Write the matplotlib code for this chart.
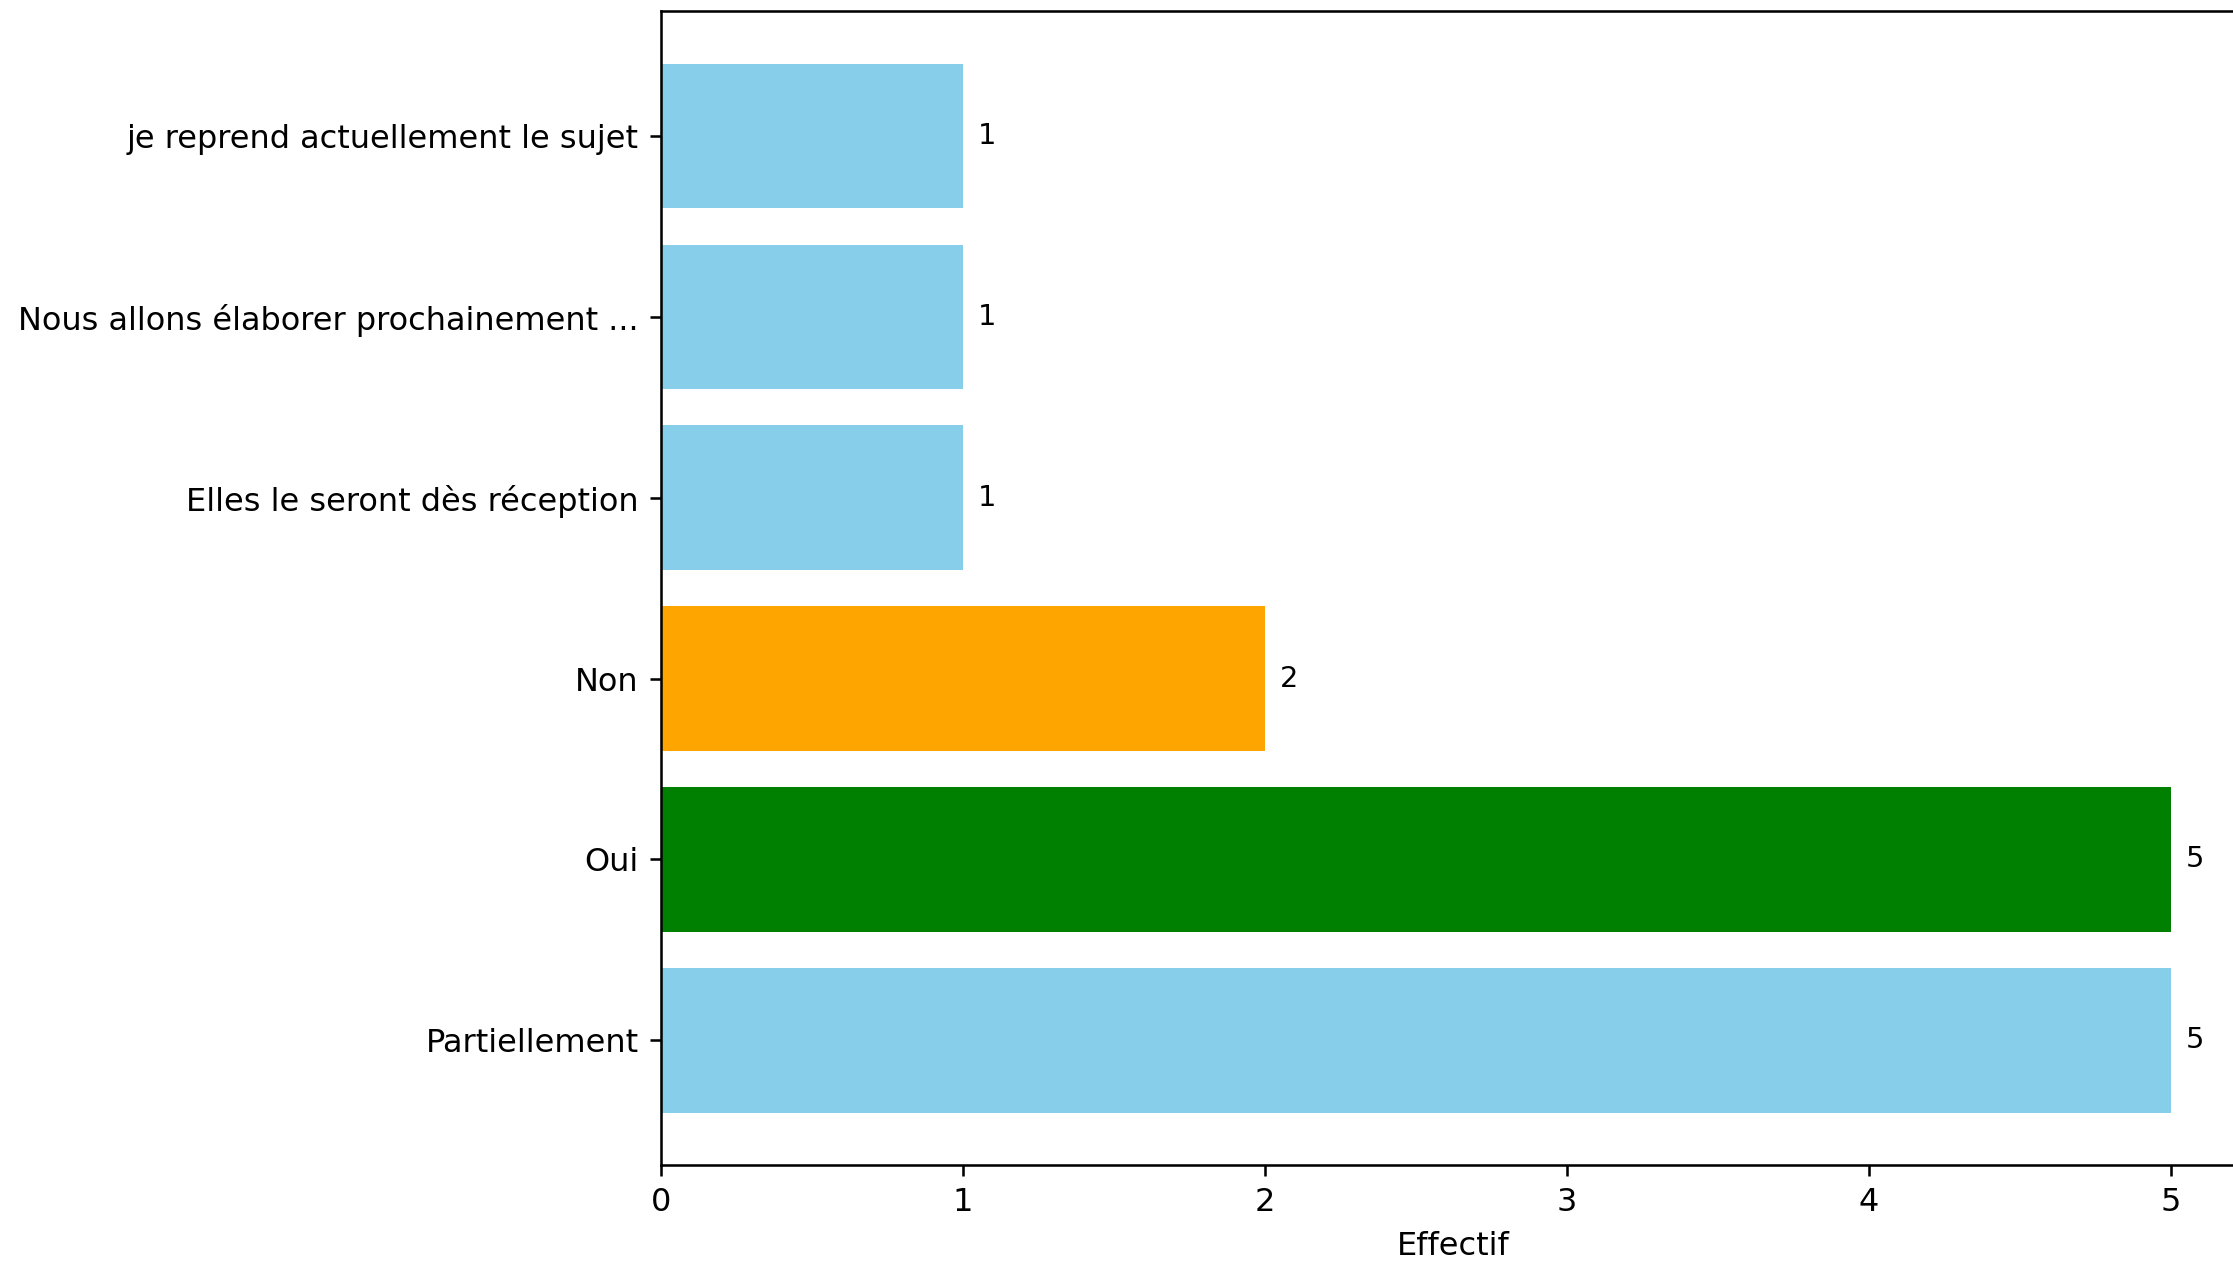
import matplotlib
matplotlib.use('Agg')
import matplotlib.pyplot as plt

labels = ['Partiellement', 'Oui', 'Non', 'Elles le seront dès réception',
          'Nous allons élaborer prochainement ...', 'je reprend actuellement le sujet']
counts = [5, 5, 2, 1, 1, 1]
colors = ['skyblue', 'green', 'orange', 'skyblue', 'skyblue', 'skyblue']

DPI = 230
fig = plt.figure(figsize=(2233 / DPI, 1265 / DPI), dpi=DPI)
ax = fig.add_axes([0.296, 0.079, 0.71, 0.912])

ax.barh(labels, counts, color=colors)
for i, v in enumerate(counts):
   ax.text(v + 0.05, i, str(v), va='center', fontsize=9)

ax.set_xlabel('Effectif')

fig.savefig('out.png', dpi=DPI)
